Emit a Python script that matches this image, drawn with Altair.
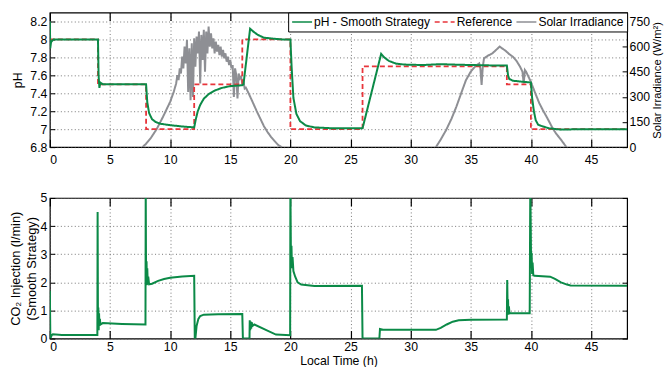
import altair as alt
import pandas as pd

# ---------------- data ----------------
ph_t = [0, 0.03, 0.1, 0.3, 4.0, 4.05, 4.12, 4.2, 4.4, 8.0, 8.1, 8.25, 8.5, 8.8, 9.2, 10, 11, 12.0,
        12.15, 12.3, 12.5, 12.8, 13.2, 13.7, 14.3, 15, 16.0, 16.1, 16.65, 16.9, 17.3, 17.8, 18.5,
        19.3, 20.0, 20.1, 20.25, 20.5, 20.8, 21.3, 22, 23.5, 26.0, 27.55, 27.8, 28.2, 28.8, 29.5,
        31, 32.5, 33.5, 35, 37, 38.0, 38.1, 38.2, 38.5, 39.2, 40.0, 40.1, 40.25, 40.4, 40.6, 41,
        41.5, 42.5, 44, 48]
ph_v = [8.2, 7.9, 7.97, 8.0, 8.0, 7.6, 7.46, 7.52, 7.5, 7.5, 7.3, 7.18, 7.11, 7.08, 7.06, 7.045,
        7.03, 7.02, 7.12, 7.2, 7.27, 7.34, 7.39, 7.43, 7.46, 7.48, 7.49, 7.5, 8.12, 8.09, 8.05,
        8.02, 8.01, 8.0, 8.0, 7.7, 7.35, 7.17, 7.09, 7.04, 7.02, 7.01, 7.01, 7.84, 7.8, 7.76,
        7.73, 7.72, 7.715, 7.725, 7.72, 7.715, 7.71, 7.71, 7.6, 7.56, 7.54, 7.53, 7.52, 7.35,
        7.2, 7.1, 7.05, 7.03, 7.01, 6.995, 7.0, 7.0]

ref_t = [0, 4, 4, 8, 8, 12, 12, 16, 16, 20, 20, 26, 26, 38, 38, 40, 40, 48]
ref_v = [8.0, 8.0, 7.5, 7.5, 7.0, 7.0, 7.5, 7.5, 8.0, 8.0, 7.0, 7.0, 7.7, 7.7, 7.5, 7.5, 7.0, 7.0]

sun1_t = [7.7, 8.0, 8.4, 8.9, 9.4, 9.7, 10.0, 10.3,
          10.5, 10.6, 10.7, 10.8, 10.9, 11.0, 11.1, 11.2, 11.3, 11.4, 11.5, 11.6, 11.7, 11.8,
          11.9, 12.0, 12.1, 12.2, 12.3, 12.4, 12.5, 12.6, 12.7, 12.8, 12.9, 13.0, 13.1, 13.2,
          13.3, 13.4, 13.5, 13.6, 13.7, 13.8, 13.9, 14.0, 14.1, 14.2, 14.3, 14.4, 14.5, 14.6,
          14.7, 14.8, 14.9, 15.0, 15.1, 15.2, 15.3, 15.4, 15.5, 15.6, 15.7, 15.8, 15.9, 16.0,
          16.1, 16.2, 16.3, 16.6, 16.9, 17.2, 17.5, 17.8, 18.1, 18.4, 18.7, 19.0, 19.3]
sun1_v = [0, 20, 55, 110, 180, 225, 270, 330,
          380, 430, 400, 470, 440, 540, 470, 600, 500, 640, 330, 590, 280, 620,
          300, 650, 480, 660, 560, 690, 380, 670, 520, 700, 450, 690, 560, 720,
          600, 680, 590, 650, 560, 630, 570, 610, 550, 600, 540, 580, 530, 560,
          510, 540, 490, 520, 470, 490, 300, 470, 430, 290, 440, 410, 420, 380,
          390, 350, 355, 310, 263, 215, 170, 125, 90, 60, 35, 12, 0]
sun2_t = [32.1, 32.5, 32.95, 33.4, 33.8, 34.3, 34.6, 35.0, 35.4, 35.7, 35.8, 35.9, 36.0, 36.1,
          36.4, 36.8, 37.1, 37.4, 37.6, 37.9, 38.2, 38.5, 38.8, 39.1, 39.3, 39.4, 39.5, 39.6,
          39.9, 40.15, 40.4, 40.7, 41.0, 41.3, 41.8, 42.1, 42.4, 42.7, 42.95]
sun2_v = [0, 45, 102, 170, 241, 341, 400, 451, 485, 500, 470, 371, 480, 530,
          545, 560, 580, 600, 590, 575, 555, 540, 515, 480, 450, 380, 460, 450,
          405, 361, 315, 262, 220, 182, 114, 80, 54, 25, 0]

co2_t = [0, 0.04, 0.15, 0.25, 1.0, 3.95, 3.97, 4.0, 4.03, 4.06, 4.09, 4.12, 4.16, 4.2, 4.4, 6.0,
         7.95, 7.97, 8.0, 8.04, 8.07, 8.1, 8.14, 8.18, 8.25, 8.5, 9.0, 9.5, 10.0, 11.0, 12.0,
         12.05, 12.1, 12.2, 12.35, 12.5, 12.8, 14, 16.0, 16.05, 16.6, 16.62, 16.66, 16.7, 16.74,
         16.78, 16.85, 17.0, 18.0, 18.8, 19.98, 20.0, 20.05, 20.09, 20.13, 20.18, 20.25, 20.4,
         20.6, 20.9, 22, 25.95, 26.0, 27.4, 27.45, 27.7, 32.1, 32.5, 33.0, 33.5, 34.0, 35, 38.0,
         38.03, 38.07, 38.1, 38.13, 38.17, 38.22, 38.4, 39.9, 39.95, 40.02, 40.06, 40.1, 40.14,
         40.2, 40.3, 41.6, 42.0, 42.5, 43.0, 43.3, 48]
co2_v = [1.7, 0.0, 0.12, 0.15, 0.13, 0.13, 4.5, 0.45, 1.1, 0.3, 0.9, 0.45, 0.7, 0.5, 0.55, 0.52,
         0.5, 5.5, 2.0, 2.75, 1.9, 2.5, 1.95, 2.2, 1.93, 1.95, 2.05, 2.12, 2.16, 2.21, 2.23,
         0.0, 0.0, 0.45, 0.7, 0.8, 0.85, 0.86, 0.87, 0.0, 0.0, 0.65, 0.3, 0.6, 0.35,
         0.58, 0.45, 0.5, 0.3, 0.14, 0.12, 5.5, 2.6, 3.3, 2.5, 2.9, 2.4, 2.2,
         2.0, 1.92, 1.87, 1.88, 0.0, 0.0, 0.34, 0.31, 0.31, 0.38, 0.5, 0.6, 0.65, 0.67, 0.68,
         2.08, 1.0, 1.4, 0.85, 1.15, 0.9, 0.9, 0.9, 5.5, 2.5, 3.05, 2.3, 2.7,
         2.25, 2.23, 2.2, 2.12, 2.0, 1.92, 1.89, 1.88]

x_ticks = [0, 5, 10, 15, 20, 25, 30, 35, 40, 45]
ph_ticks = [6.8, 7.0, 7.2, 7.4, 7.6, 7.8, 8.0, 8.2]
sun_ticks = [0, 150, 300, 450, 600, 750]
co2_ticks = [0, 1, 2, 3, 4, 5]
names = ["pH - Smooth Strategy", "Reference", "Solar Irradiance"]

# ---------------- frames ----------------
ph_df = pd.DataFrame({"t": ph_t, "v": ph_v, "series": names[0], "i": range(len(ph_t))})
ref_df = pd.DataFrame({"t": ref_t, "v": ref_v, "series": names[1], "i": range(len(ref_t))})
sun_df = pd.concat([
    pd.DataFrame({"t": sun1_t, "v": sun1_v, "day": 1}),
    pd.DataFrame({"t": sun2_t, "v": sun2_v, "day": 2}),
], ignore_index=True)
sun_df["series"] = names[2]
sun_df["i"] = range(len(sun_df))
co2_df = pd.DataFrame({"t": co2_t, "v": co2_v, "i": range(len(co2_t))})
xtick_df = pd.DataFrame({"t": x_ticks})
mirror_df = pd.DataFrame({"t": x_ticks[:len(co2_ticks)], "v": co2_ticks})

FONT = "Liberation Sans"
FS = 12.3
GREEN = "#0b8a47"
RED = "#e8353b"
GRAY = "#8e8f94"
GRID = dict(gridDash=[1, 2.5], gridColor="#555", gridWidth=0.8)

W = 579
H1 = 135
H2 = 141

color = alt.Color("series:N", scale=alt.Scale(domain=names, range=[GREEN, RED, GRAY]),
                  legend=alt.Legend(title=None))
dash = alt.StrokeDash("series:N", scale=alt.Scale(domain=names, range=[[1, 0], [5, 3], [1, 0]]),
                      legend=alt.Legend(title=None))

xs = alt.Scale(domain=[0, 48], nice=False, zero=False)
ph_scale = alt.Scale(domain=[6.8, 8.3], nice=False, zero=False)


def xaxis(title=None, pad=14, tpad=1):
    return alt.Axis(values=x_ticks, title=title, grid=True, **GRID, domain=False,
                    tickSize={"expr": "-8"}, tickColor="black", tickWidth=1.2,
                    labelPadding=pad, titlePadding=tpad, labelOverlap=False)


top_ticks = alt.Axis(orient="top", values=x_ticks, title=None, labels=False, grid=False,
                     domain=False, tickSize={"expr": "-8"}, tickColor="black", tickWidth=1.2)

ph_axis = alt.Axis(orient="left", values=ph_ticks, format=".1~f", title="pH",
                   grid=True, **GRID, domain=False, tickSize={"expr": "-5"},
                   tickColor="black", labelPadding=8, labelOverlap=False, titlePadding=5)

sun = alt.Chart(sun_df).mark_line(strokeWidth=2, clip=True).encode(
    x=alt.X("t:Q", scale=xs, axis=xaxis()),
    y=alt.Y("v:Q", scale=alt.Scale(domain=[0, 750 * 1.5 / 1.4], nice=False),
            axis=alt.Axis(orient="right", values=sun_ticks, title="Solar Irradiance (W/m²)",
                          grid=False, domain=False, tickSize={"expr": "-5"}, tickColor="black",
                          labelPadding=7, labelOverlap=False, titleAngle=270,
                          titleBaseline="top", titlePadding=2, titleFontSize=11.3)),
    color=color, strokeDash=dash, detail="day:N", order="i:Q")

ref = alt.Chart(ref_df).mark_line(strokeWidth=1.8, clip=True).encode(
    x=alt.X("t:Q", scale=xs, axis=None),
    y=alt.Y("v:Q", scale=ph_scale, axis=ph_axis),
    color=color, strokeDash=dash, order="i:Q")

ph = alt.Chart(ph_df).mark_line(strokeWidth=2, clip=True).encode(
    x=alt.X("t:Q", scale=xs, axis=None),
    y=alt.Y("v:Q", scale=ph_scale, axis=ph_axis),
    color=color, strokeDash=dash, order="i:Q")

top_mirror = alt.Chart(xtick_df).mark_point(opacity=0).encode(
    x=alt.X("t:Q", scale=xs, axis=top_ticks))

top = alt.layer(sun, alt.layer(ref, ph), top_mirror).resolve_scale(
    y="independent").resolve_axis(x="independent").properties(width=W, height=H1)

co2 = alt.Chart(co2_df).mark_line(strokeWidth=2, clip=True, color=GREEN).encode(
    x=alt.X("t:Q", scale=xs, axis=xaxis("Local Time (h)", pad=10, tpad=2)),
    y=alt.Y("v:Q", scale=alt.Scale(domain=[0, 5], nice=False),
            axis=alt.Axis(values=co2_ticks, title=["CO₂ Injection (l/min)", "(Smooth Strategy)"],
                          grid=True, **GRID, domain=False, tickSize={"expr": "-5"},
                          tickColor="black", labelPadding=8, labelOverlap=False,
                          titlePadding=2, titleLineHeight=16, titleFontSize=12.8)),
    order="i:Q")

bottom_mirror = alt.Chart(mirror_df).mark_point(opacity=0).encode(
    x=alt.X("t:Q", scale=xs, axis=top_ticks),
    y=alt.Y("v:Q", scale=alt.Scale(domain=[0, 5], nice=False),
            axis=alt.Axis(orient="right", values=co2_ticks, title=None, labels=False,
                          grid=False, domain=False, tickSize={"expr": "-5"},
                          tickColor="black")))

bottom = alt.layer(co2, bottom_mirror).resolve_axis(x="independent", y="independent").properties(
    width=W, height=H2)

chart = alt.vconcat(top, bottom, spacing=25).properties(
    padding={"left": 0, "top": 2, "right": 0, "bottom": 0}
).configure_view(stroke="black", strokeWidth=1.2).configure_axis(
    labelFont=FONT, titleFont=FONT, labelFontSize=FS, titleFontSize=FS, labelColor="black",
    titleColor="black", titleFontWeight="normal"
).configure_legend(
    orient="top-right", direction="horizontal", offset=0, symbolType="stroke", symbolSize=400,
    symbolStrokeWidth=1.6, labelFont=FONT, labelFontSize=12.1, labelColor="black",
    strokeColor="black", fillColor="white", padding=3, columnPadding=3, labelOffset=1,
    cornerRadius=0, clipHeight=13
)

chart.save("out.html", embed_options={"renderer": "svg", "actions": False})
